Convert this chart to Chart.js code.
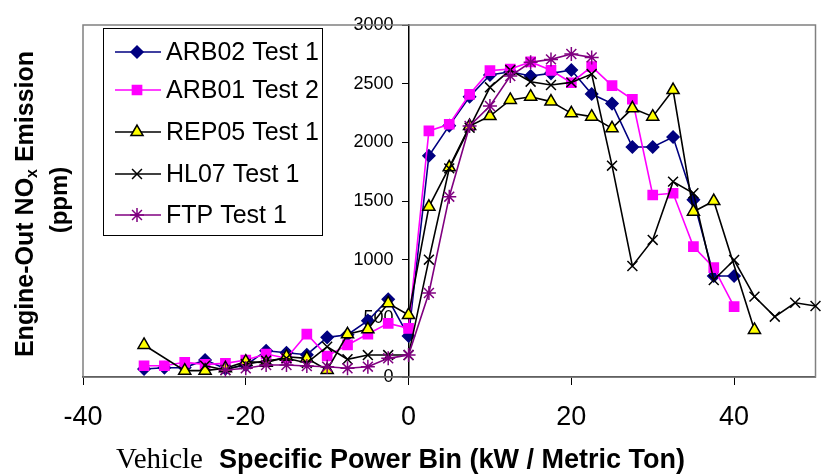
<!DOCTYPE html>
<html>
<head>
<meta charset="utf-8">
<script src="https://cdn.jsdelivr.net/npm/chart.js@4"></script>
<style>
  body { margin: 0; background: #fff; }
  canvas { display: block; }
</style>
</head>
<body>
<canvas id="noxChart" width="824" height="475"></canvas>
<script>
// VSP bins (kW / metric ton)
const bins = [-32.5, -30, -27.5, -25, -22.5, -20, -17.5, -15, -12.5, -10, -7.5, -5, -2.5, 0,
  2.5, 5, 7.5, 10, 12.5, 15, 17.5, 20, 22.5, 25, 27.5, 30, 32.5, 35, 37.5, 40, 42.5, 45, 47.5, 50];

// NOx (ppm) per bin, null = no data
const arb02Test1 = [68, 79, 80, 145, 70, 100, 224, 207, 190, 338, 360, 480, 662, 349,
  1886, 2142, 2389, 2574, 2602, 2565, 2588, 2616, 2412, 2330, 1960, 1960, 2045, 1510, 861, 861, null, null, null, null];
const arb01Test2 = [96, 96, 125, 108, 116, 145, 196, 160, 366, 179, 273, 366, 457, 415,
  2097, 2154, 2409, 2611, 2625, 2685, 2614, 2508, 2645, 2483, 2367, 1551, 1566, 1111, 932, 599, null, null, null, null];
const rep05Test1 = [273, null, 54, 54, 74, 131, 122, 173, 159, 60, 364, 406, 628, 528,
  1450, 1787, 2139, 2224, 2361, 2389, 2347, 2247, 2219, 2119, 2290, 2219, 2446, 1409, 1500, null, 401, null, null, null];
const hl07Test1 = [null, null, null, 96, 60, 110, 139, 159, 120, 258, 151, 187, 187, 187,
  1000, 1778, 2125, 2469, 2616, 2517, 2489, 2511, 2582, 1801, 946, 1168, 1665, 1566, 827, 997, 685, 514, 633, 605];
const ftpTest1 = [null, null, null, null, 60, 74, 102, 102, 94, 88, 74, 88, 159, 187,
  716, 1537, 2139, 2310, 2565, 2682, 2707, 2753, 2724, null, null, null, null, null, null, null, null, null, null, null];

const seriesNames = ["ARB02 Test 1", "ARB01 Test 2", "REP05 Test 1", "HL07 Test 1", "FTP Test 1"];
const xTicks = [-40, -20, 0, 20, 40];

function toPoints(values) {
  return bins.map((x, i) => ({ x, y: values[i] })).filter(p => p.y !== null);
}

function makeSet(label, values, color, style, fill, radius, order) {
  return {
    label,
    data: toPoints(values),
    borderColor: color,
    backgroundColor: fill,
    pointBackgroundColor: fill,
    pointBorderColor: color,
    pointStyle: style,
    pointRadius: radius,
    pointBorderWidth: 1.5,
    borderWidth: 1.6,
    tension: 0,
    clip: 12,
    order
  };
}

const datasets = [
  makeSet(seriesNames[0], arb02Test1, "#000080", "rectRot", "#000080", 6, 5),
  makeSet(seriesNames[1], arb01Test2, "#FF00FF", "rect", "#FF00FF", 6.5, 4),
  makeSet(seriesNames[2], rep05Test1, "#000000", "triangle", "#FFFF00", 7, 3),
  makeSet(seriesNames[3], hl07Test1, "#000000", "crossRot", "#000000", 7, 2),
  makeSet(seriesNames[4], ftpTest1, "#800080", "star", "#800080", 7, 1)
];

// gray frame round the plot area
const framePlugin = {
  id: "frame",
  beforeDatasetsDraw(chart) {
    const { ctx, chartArea: a } = chart;
    ctx.save();
    ctx.strokeStyle = "#808080";
    ctx.lineWidth = 1.5;
    ctx.strokeRect(a.left, a.top, a.right - a.left, a.bottom - a.top);
    ctx.restore();
  }
};

// boxed legend in the top-left corner + axis titles
const extrasPlugin = {
  id: "extras",
  afterDraw(chart) {
    const ctx = chart.ctx;
    ctx.save();

    // legend
    ctx.fillStyle = "#fff";
    ctx.fillRect(103, 28, 219, 207);
    ctx.strokeStyle = "#000";
    ctx.lineWidth = 1;
    ctx.strokeRect(103.5, 28.5, 219, 207);
    const rows = [52, 90, 132, 174, 215];
    chart.data.datasets.forEach((ds, i) => {
      const y = rows[i];
      ctx.strokeStyle = ds.borderColor;
      ctx.lineWidth = ds.borderWidth;
      ctx.beginPath();
      ctx.moveTo(115, y);
      ctx.lineTo(161, y);
      ctx.stroke();
      ctx.fillStyle = ds.pointBackgroundColor;
      ctx.strokeStyle = ds.pointBorderColor;
      ctx.lineWidth = ds.pointBorderWidth;
      Chart.helpers.drawPoint(ctx, {
        pointStyle: ds.pointStyle, radius: ds.pointRadius, rotation: 0, borderWidth: ds.pointBorderWidth
      }, 137, y);
      ctx.fillStyle = "#000";
      ctx.font = "25px 'Liberation Sans', Arial, sans-serif";
      ctx.textAlign = "left";
      ctx.textBaseline = "middle";
      ctx.fillText(ds.label, 166, y + 1);
    });

    // x title
    ctx.fillStyle = "#000";
    ctx.textBaseline = "alphabetic";
    ctx.textAlign = "left";
    ctx.font = "29px 'Liberation Serif', 'Times New Roman', serif";
    ctx.fillText("Vehicle", 116, 468);
    ctx.font = "bold 27px 'Liberation Sans', Arial, sans-serif";
    ctx.fillText("Specific Power Bin (kW / Metric Ton)", 219, 468);

    // y title, two lines, with subscript x
    const big = "bold 25px 'Liberation Sans', Arial, sans-serif";
    const small = "bold 16px 'Liberation Sans', Arial, sans-serif";
    const parts = ["Engine-Out NO", "x", " Emission"];
    ctx.font = big;
    const w0 = ctx.measureText(parts[0]).width;
    const w2 = ctx.measureText(parts[2]).width;
    ctx.font = small;
    const w1 = ctx.measureText(parts[1]).width;
    const total = w0 + w1 + w2;
    ctx.save();
    ctx.translate(33, 204);
    ctx.rotate(-Math.PI / 2);
    let x = -total / 2;
    ctx.font = big;
    ctx.fillText(parts[0], x, 0);
    x += w0;
    ctx.font = small;
    ctx.fillText(parts[1], x, 4);
    x += w1;
    ctx.font = big;
    ctx.fillText(parts[2], x, 0);
    ctx.restore();

    ctx.save();
    ctx.translate(67, 200);
    ctx.rotate(-Math.PI / 2);
    ctx.textAlign = "center";
    ctx.font = "bold 24px 'Liberation Sans', Arial, sans-serif";
    ctx.fillText("(ppm)", 0, 0);
    ctx.restore();

    ctx.restore();
  }
};

new Chart(document.getElementById("noxChart"), {
  type: "line",
  data: { datasets },
  options: {
    responsive: false,
    animation: false,
    layout: { padding: { left: 83, top: 25, right: 7, bottom: 0 } },
    plugins: {
      legend: { display: false },
      tooltip: { enabled: false }
    },
    scales: {
      x: {
        type: "linear",
        position: "bottom",
        min: -40,
        max: 50,
        afterBuildTicks(scale) {
          scale.ticks = xTicks.map(v => ({ value: v }));
        },
        afterFit(scale) { scale.height = 98; },
        ticks: {
          stepSize: 20,
          color: "#000",
          padding: 16,
          maxRotation: 0,
          font: { family: "'Liberation Sans', Arial, sans-serif", size: 27 }
        },
        grid: { drawOnChartArea: false, tickLength: 8, color: "#000" },
        border: { color: "#000", width: 1.5 }
      },
      y: {
        type: "linear",
        position: { x: 0 },
        min: 0,
        max: 3000,
        ticks: {
          stepSize: 500,
          color: "#000",
          // axis sits mid-chart, so labels are pushed left with trailing spaces
          callback: v => String(v) + "   ",
          font: { family: "'Liberation Sans', Arial, sans-serif", size: 18 }
        },
        grid: { drawOnChartArea: false, tickLength: 6, color: "#000" },
        border: { color: "#000", width: 1.5 }
      }
    }
  },
  plugins: [framePlugin, extrasPlugin]
});
</script>
</body>
</html>
